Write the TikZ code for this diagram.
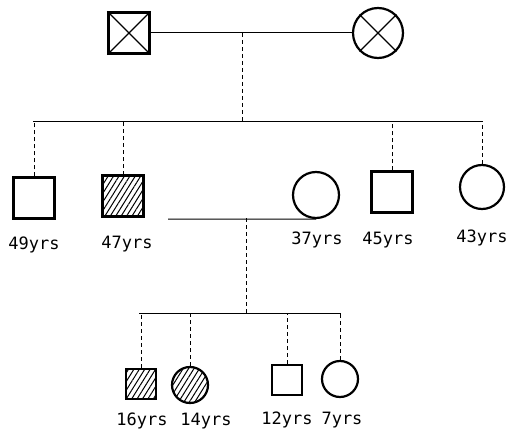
\documentclass[tikz,border=0pt]{standalone}
\usepackage{fontspec}
\setmonofont{DejaVu Sans Mono}
\usetikzlibrary{patterns.meta}
\tikzset{
  male/.style={draw, line width=2.2pt, rectangle, minimum size=#1, inner sep=0pt},
  female/.style={draw, line width=2.2pt, circle, minimum size=#1, inner sep=0pt},
  hatch/.style={pattern={Lines[angle=58, distance=4.6pt, line width=1pt]}},
  solidline/.style={line width=1pt},
  dropline/.style={line width=1pt, dash pattern=on 4pt off 3pt},
  age/.style={font=\ttfamily\fontsize{17}{20}\selectfont, inner sep=0pt},
}
\begin{document}
\begin{tikzpicture}[x=1pt, y=-1pt]
\useasboundingbox (0,0) rectangle (509,436);
% generation I
\node[male=41pt] (gf) at (129,33) {};
\node[female=50pt] (gm) at (378,33) {};
\draw[line width=1.2pt] (gf.north west) -- (gf.south east) (gf.north east) -- (gf.south west);
\draw[line width=1.2pt] (gm.north west) -- (gm.south east) (gm.north east) -- (gm.south west);
\draw[solidline] (gf.east) -- (gm.west);
\coordinate (m1) at (242,33);
\coordinate (s1) at (242,121);
\coordinate (sl1) at (33,121);
\coordinate (sr1) at (482,121);
\draw[dropline] (m1) -- (s1);
\draw[solidline] (sl1) -- (sr1);
% generation II
\node[male=41pt] (c49) at (34,198) {};
\node[male=41pt, hatch] (c47) at (123,196) {};
\node[female=46pt] (c37) at (316,195) {};
\node[male=41pt] (c45) at (392,192) {};
\node[female=44pt] (c43) at (482,187) {};
\draw[dropline] (c49.north) -- (c49.north |- sl1);
\draw[dropline] (c47.north) -- (c47.north |- sl1);
\draw[dropline] (c45.north) -- (c45.north |- sl1);
\draw[dropline] (c43.north) -- (c43.north |- sl1);
\node[age] (l49) at (34,245) {49yrs};
\node[age] (l47) at (127,244) {47yrs};
\node[age] (l37) at (317,240) {37yrs};
\node[age] (l45) at (388,240) {45yrs};
\node[age] (l43) at (482,238) {43yrs};
% marriage II
\coordinate (sp) at (168,219);
\draw[solidline] (sp) -- (c37.south);
\coordinate (m2) at (246,218);
\coordinate (s2) at (246,313);
\coordinate (sl2) at (139,313);
\coordinate (sr2) at (341,313);
\draw[dropline] (m2) -- (s2);
\draw[solidline] (sl2) -- (sr2);
% generation III
\node[male=30pt, hatch] (k16) at (141,384) {};
\node[female=36pt, hatch] (k14) at (190,385) {};
\node[male=30pt] (k12) at (287,380) {};
\node[female=36pt] (k7) at (340,379) {};
\draw[dropline] (k16.north) -- (k16.north |- sl2);
\draw[dropline] (k14.north) -- (k14.north |- sl2);
\draw[dropline] (k12.north) -- (k12.north |- sl2);
\draw[dropline] (k7.north) -- (k7.north |- sl2);
\node[age] (l16) at (142,421) {16yrs};
\node[age] (l14) at (206,421) {14yrs};
\node[age] (l12) at (287,420) {12yrs};
\node[age] (l7) at (342,420) {7yrs};
\end{tikzpicture}
\end{document}
